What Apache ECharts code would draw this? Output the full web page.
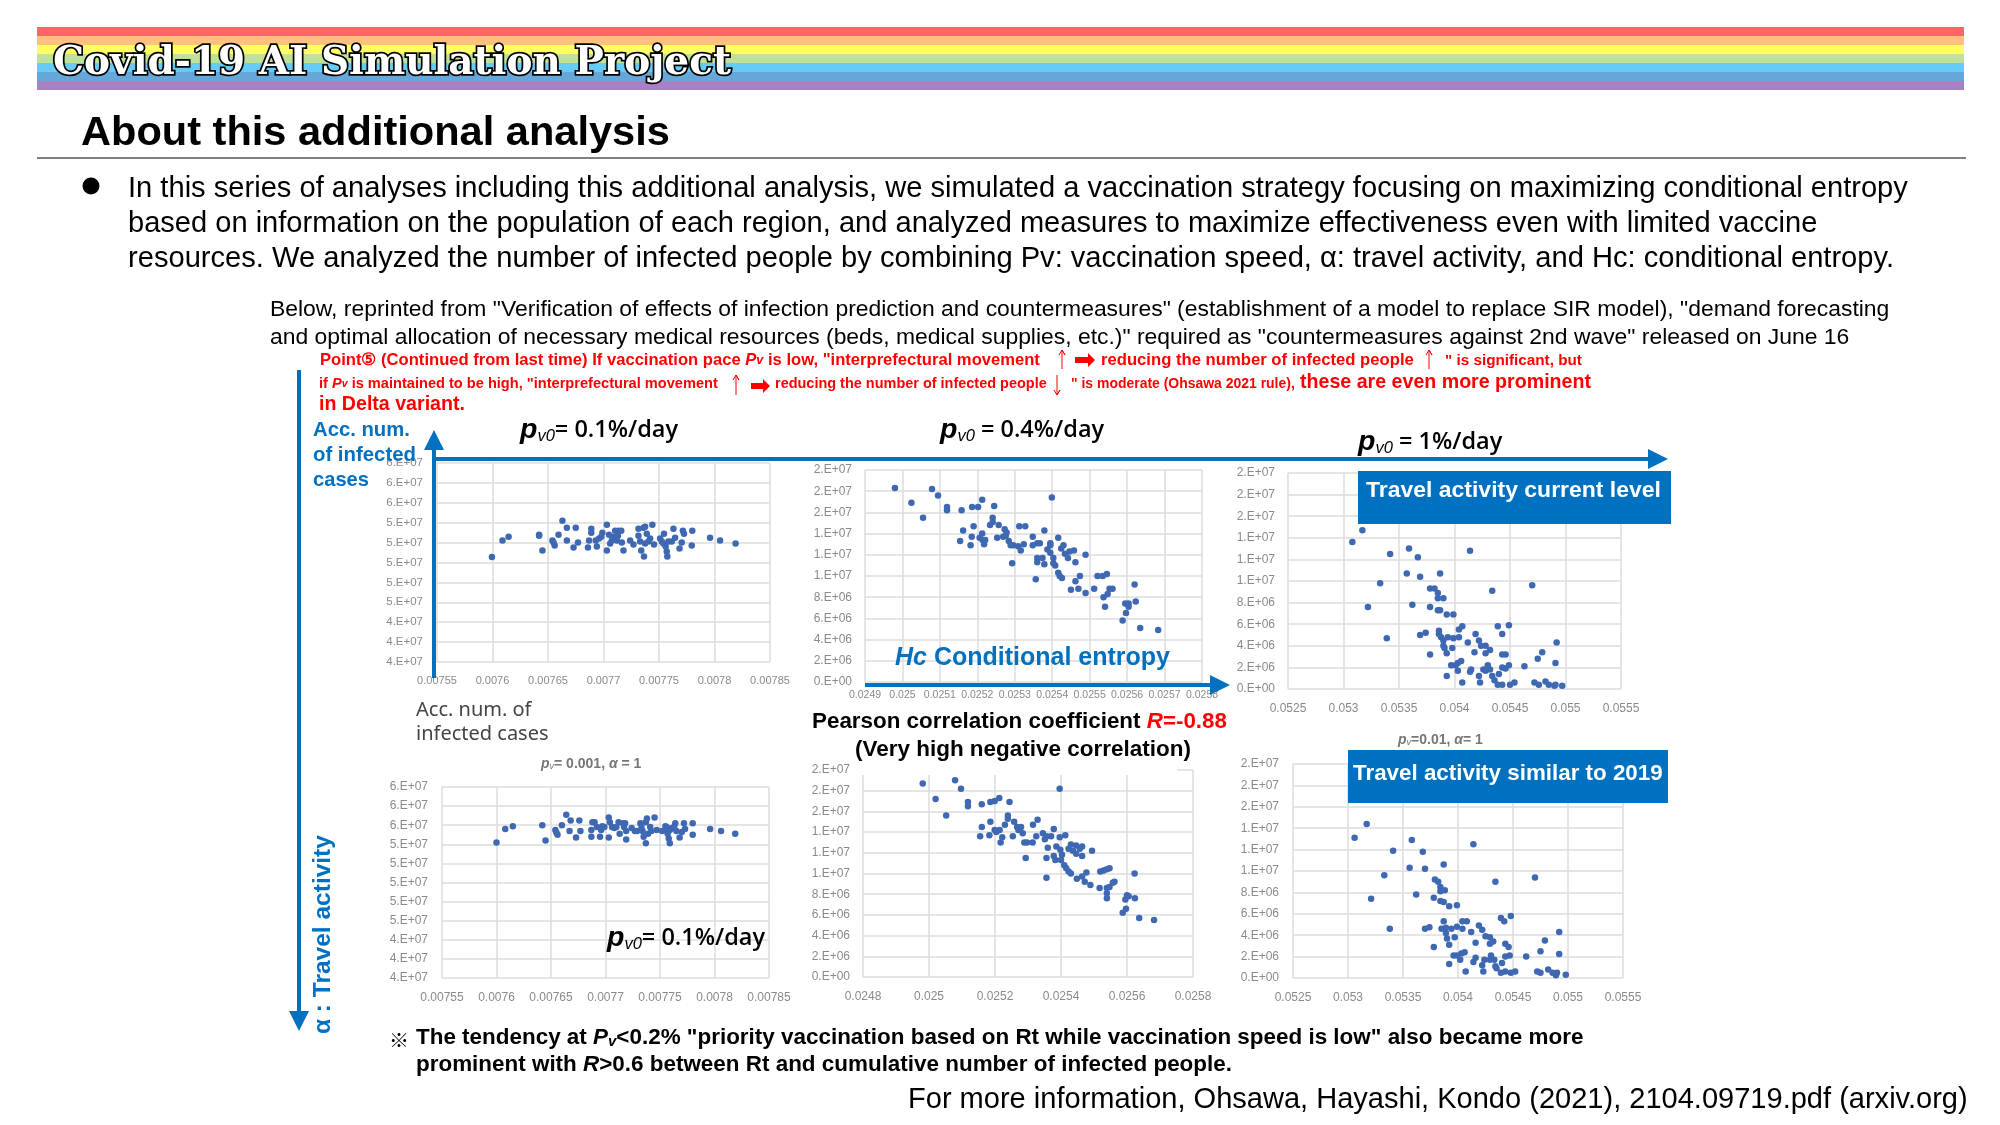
<!DOCTYPE html>
<html><head><meta charset="utf-8">
<style>html,body{margin:0;padding:0;background:#fff}#c{width:2000px;height:1125px}</style>
<script src="https://cdn.jsdelivr.net/npm/echarts@6/dist/echarts.min.js"></script></head>
<body><div id="c"></div>
<script>
// x unit: 1e-5 (pv 0.1%, 0.4%) or 1e-4 (pv 1%); y unit: 1e6 cases.
const currentPv01 = [[759.95,50.55],[760.9,52.2],[761.45,52.6],[764.2,52.8],[764.2,52.7],[764.5,51.2],[765.4,52.2],[765.5,52],[765.6,51.7],[765.95,52.8],[766.3,54.2],[766.7,53.5],[766.7,52.2],[767.3,51.5],[767.5,53.5],[767.7,52],[768.6,51.5],[768.7,52.2],[768.9,53.4],[768.9,53],[769.3,52.2],[769.4,51.6],[769.6,52.4],[769.8,52.6],[769.9,53],[770.3,53.8],[770.3,51.2],[770.5,52.8],[770.6,51.9],[770.75,52.2],[770.9,52.6],[771.05,53.2],[771.35,53.2],[771.6,53.2],[771.3,52.7],[771.2,52.2],[771.65,52],[771.8,51.2],[772.4,52.2],[772.7,51.8],[773.15,53.4],[773.6,53.5],[773.75,53.6],[773.15,52.7],[773.3,52.1],[773.75,51.9],[773.4,51.2],[773.65,50.6],[773.9,52.9],[774.05,52.1],[774.2,52.4],[774.4,53.8],[774.55,51.8],[775.1,52.4],[775.25,52.1],[775.45,52.9],[775.4,51.9],[775.6,51.6],[775.7,51.1],[775.75,50.6],[775.85,52.1],[776.15,52.1],[776.3,53.4],[776.45,52.5],[776.85,51.4],[777.05,52],[777.15,53.2],[777.25,52.9],[777.95,51.7],[778,53.2],[779.6,52.5],[780.5,52.2],[781.9,51.9]];
const currentPv04 = [[2498,18.3],[2502.4,16.9],[2507.9,18.2],[2509.5,17.6],[2505.5,15.5],[2511.9,16.5],[2511.9,16.2],[2515.8,16.2],[2518.6,16.5],[2520.2,16.5],[2521.3,17.2],[2524.5,16.6],[2516.2,14.3],[2515.4,13.3],[2519,14.7],[2518.5,13.7],[2518.2,12.9],[2520.6,13.6],[2521.3,14],[2521.4,13.4],[2522.1,13.4],[2521.8,13],[2523.4,14.8],[2524.1,15.5],[2524.1,15.1],[2525.3,13.6],[2525.7,14.8],[2526.9,13.7],[2527.3,14.4],[2527.8,14.1],[2527.6,13.8],[2528.4,13.3],[2528.9,12.9],[2529.6,12.9],[2529.3,11.2],[2530.9,12.8],[2531.6,12.4],[2531.2,14.7],[2532.8,14.7],[2532.4,13],[2534.8,13.7],[2534.8,12.9],[2536,13.1],[2536.7,13.1],[2537.9,14.3],[2539.5,13.1],[2539.5,12.9],[2538.7,12.5],[2539.5,12.2],[2539.9,17.4],[2535.6,9.7],[2536,11.7],[2536,11.3],[2537.4,11.7],[2537.9,11.1],[2540.3,11.7],[2540.3,11.2],[2540.8,11],[2541.6,13.6],[2542.4,12.6],[2543,12.9],[2543.4,12.1],[2544.2,11.7],[2544.6,12.3],[2545.8,12.4],[2546.2,11.3],[2548.9,12],[2541.6,10.3],[2542,10],[2542.6,9.8],[2545,8.7],[2546.2,9.5],[2547.4,10],[2547,8.8],[2548.9,8.4],[2551.2,8.8],[2552.1,10],[2553.5,10],[2554.6,10.2],[2553.7,8],[2554.8,8.3],[2554.1,7.1],[2555.3,8.8],[2556.1,8.8],[2562,9.2],[2559.5,7.4],[2560.4,7.4],[2560.4,7.1],[2562.3,7.6],[2559.7,6.5],[2558.8,5.8],[2563.5,5.1],[2568.3,4.9]];
const currentPv1 = [[530.8,13.6],[531.7,14.7],[534.2,12.5],[535.9,13],[536.7,12.2],[541.4,12.8],[535.7,10.7],[536.9,10.4],[538.7,10.7],[533.3,9.8],[547,9.6],[543.4,9.1],[537.8,9.3],[538.2,9.3],[538.5,8.9],[538.5,8.4],[539,8.4],[532.2,7.6],[536.2,7.8],[537.8,7.6],[538.5,7.3],[538.7,7.3],[539.3,6.9],[539.9,6.9],[533.9,4.7],[536.9,5],[537.4,5.2],[538.6,5.4],[538.6,5.1],[538.8,4.8],[539,4.5],[539.4,4.8],[539.9,4.7],[540.4,4.8],[540.4,5.5],[540.7,5.8],[539,4],[539.1,3.8],[539.8,3.8],[539.3,3.3],[537.8,3.2],[541.2,4.3],[541.8,3.4],[541.9,5.1],[542.2,4.5],[542.4,4],[542.8,4],[542.8,3.3],[543.2,3.6],[543.9,5.8],[544.3,5.1],[544.9,5.9],[544.3,3.2],[544.6,3.2],[539.7,2.2],[540.1,2.2],[540.3,2.4],[540.6,2.6],[540.3,1.7],[539.3,1.2],[540.7,0.6],[541.4,1.6],[541.5,1.8],[542.2,1.2],[542.3,0.6],[542.6,1.8],[543,2.2],[542.8,1.7],[543.2,1.8],[543.4,1.2],[543.6,0.8],[544,1.4],[543.9,0.4],[544.3,0.4],[544.3,2],[544.6,1.9],[544.9,2.2],[545,0.4],[545.4,0.6],[546.3,2.1],[547.2,0.6],[547.6,0.4],[547.5,2.8],[547.9,3.4],[548.2,0.7],[548.5,0.4],[549,0.3],[549.1,0.4],[549.1,2.4],[549.2,4.3],[549.7,0.3]];
const similar2019Pv01 = [[760,54.2],[760.8,55.6],[761.5,55.9],[764.2,56],[764.5,54.4],[765.4,55.5],[765.5,55.2],[765.6,55],[766,56],[766.4,57.1],[766.7,55.4],[766.8,56.5],[767.3,54.7],[767.6,56.5],[767.7,55.4],[768.7,55.5],[768.7,54.8],[768.8,56.3],[769,56.3],[769.2,55.8],[769.5,54.8],[769.6,55.5],[769.7,55.9],[769.9,55.8],[770.3,56.8],[770.3,54.7],[770.4,56.3],[770.6,55.8],[770.8,55.7],[771,55.8],[771.3,55.1],[771.2,56.3],[771.6,56.2],[771.8,56.2],[771.7,55.8],[771.9,54.5],[771.9,55.4],[772.4,55.7],[772.7,55.4],[772.9,55.4],[773.2,56.2],[773.3,55.8],[773.4,55.4],[773.5,54.8],[773.7,54.1],[773.7,56.3],[773.8,56.7],[773.9,55.1],[774.1,55.8],[774.2,55.4],[774.5,56.8],[774.7,55.5],[775.2,55.4],[775.5,55.9],[775.5,55.5],[775.6,55.8],[775.7,55.1],[775.8,54.6],[775.9,54.1],[775.9,55.5],[776.1,55.7],[776.3,55.8],[776.4,56.2],[776.5,55.4],[776.8,54.7],[777,55.3],[777.2,56.2],[777.3,55.6],[778,56.2],[778,55],[779.6,55.6],[780.6,55.4],[781.9,55.1]];
const similar2019Pv04 = [[2498.1,18.7],[2507.9,19],[2509.7,18.2],[2502,17.2],[2505.2,15.6],[2511.8,16.9],[2511.8,16.5],[2516,16.7],[2518.6,16.9],[2519.9,17],[2521.3,17.3],[2524.4,16.9],[2539.6,18.2],[2516,14.5],[2515.5,13.6],[2518.6,15],[2518.3,13.7],[2519.9,14.2],[2521.4,14.2],[2520.4,14],[2522.2,13.5],[2521.7,13],[2523,14.7],[2523.9,15.6],[2523.9,15.3],[2525.8,15],[2525.4,13.6],[2526.7,14.5],[2527.9,14.5],[2527.1,14.2],[2528.4,13.9],[2528.9,13],[2529.7,13],[2529.3,11.5],[2531.5,14.7],[2532.9,15.2],[2531.4,13],[2532.5,13.6],[2534.5,13.9],[2535.1,13.3],[2535.6,13.6],[2536,12.5],[2535.6,11.5],[2535.6,9.6],[2537,13.6],[2537.8,14.3],[2539.6,13.5],[2541.3,13.7],[2538.6,12.6],[2537.8,11.7],[2538.3,11.3],[2539.8,12.3],[2540.3,11.8],[2540,11.3],[2541,10.8],[2541.6,10.5],[2542.3,10.2],[2543,10],[2543,12.8],[2542.3,12.4],[2543.6,12.2],[2544.6,12.7],[2544.6,11.9],[2545.7,12.4],[2546.4,12.6],[2546.4,11.7],[2549.4,12.2],[2544.8,9.5],[2546.4,9.7],[2547.7,10.1],[2547.2,9.2],[2548.9,8.9],[2551.7,8.6],[2551.9,10.2],[2552.9,10.3],[2553.9,10.4],[2554.7,10.5],[2553.9,8.6],[2553.9,8.1],[2553.9,7.6],[2554.7,8.7],[2555.7,9.1],[2556.2,9.2],[2562.3,10],[2560,7.9],[2560.5,7.8],[2559.5,7.5],[2562.4,7.6],[2559.7,6.6],[2558.7,6.2],[2563.7,5.7],[2568.2,5.5]];
const similar2019Pv1 = [[530.6,13.1],[531.7,14.4],[534.1,11.9],[535.8,12.9],[536.8,11.8],[541.4,12.5],[535.6,10.3],[537,10.2],[538.7,10.6],[533.3,9.6],[547,9.4],[543.4,9],[537.9,9.2],[538.2,9],[538.4,8.5],[538.4,8.1],[538.8,8.2],[532.1,7.4],[536.2,7.8],[537.8,7.5],[538.4,7.2],[538.7,7.1],[539.2,6.7],[539.9,6.8],[533.8,4.6],[537,4.6],[537.4,4.75],[538.7,5.3],[538.5,4.6],[538.9,4.7],[539.4,4.6],[538.9,4.2],[539,3.7],[539.7,3.8],[539.9,4.8],[540.4,4.6],[540.4,5.3],[540.8,5.3],[541.2,4.3],[541.6,3.3],[539.2,3.1],[537.8,2.9],[541.9,4.9],[542.2,4.5],[542.5,3.9],[542.9,3.8],[542.9,3.2],[543.2,3.4],[543.9,5.6],[544.2,5.3],[544.8,5.8],[544.3,3.2],[544.6,2.9],[539.6,2.1],[539.9,2.1],[540.3,2.3],[540.6,2.4],[540.2,1.7],[539.2,1.3],[540.7,0.6],[541.4,1.5],[541.6,1.9],[542.2,1.2],[542.3,0.6],[542.4,1.7],[543,2.1],[542.9,1.7],[543.3,1.7],[543.4,1.1],[543.5,0.9],[544,1.4],[543.9,0.5],[544.3,0.6],[544.3,2],[544.7,2.1],[544.8,0.5],[545.2,0.6],[546.2,2],[547.2,0.6],[547.5,0.5],[547.5,2.5],[547.9,3.5],[548.2,0.8],[548.6,0.5],[549,0.5],[548.9,0.25],[549.2,2.25],[549.2,4.3],[549.8,0.3]];

const bandColors = ['#ff6666','#ffc080','#ffff66','#c0e298','#66ccf5','#66a6d8','#a880c4'];
const SANS = '"Liberation Sans",Arial,sans-serif';
const BLUE = '#0070c0', RED = '#ff0000';

const panels = [
 {data:currentPv01, xu:1e-5, xr:[0.00755,0.00785,0.00005], yr:[4e7,6e7,2e6], box:[437,463,333,199], lf:11, xm:13, ym:14},
 {data:currentPv04, xu:1e-5, xr:[0.0249,0.0258,0.0001], yr:[0,2e7,2e6], box:[865,470,337,212], lf:10.5, xm:8, ym:13, yf:12},
 {data:currentPv1, xu:1e-4, xr:[0.0525,0.0555,0.0005], yr:[0,2e7,2e6], box:[1288,473,333,216], lf:12, xm:14, ym:13},
 {data:similar2019Pv01, xu:1e-5, xr:[0.00755,0.00785,0.00005], yr:[4e7,6e7,2e6], box:[442,787,327,191], lf:12, xm:14, ym:14},
 {data:similar2019Pv04, xu:1e-5, xr:[0.0248,0.0258,0.0002], yr:[0,2e7,2e6], box:[863,770,330,207], lf:12, xm:14, ym:13},
 {data:similar2019Pv1, xu:1e-4, xr:[0.0525,0.0555,0.0005], yr:[0,2e7,2e6], box:[1293,764,330,214], lf:12, xm:14, ym:14},
];
const sci = v => { const [m,e] = v.toExponential(0).split('e'); const n = Math.abs(+e); return m + '.E' + (+e<0?'-':'+') + (n<10?'0':'') + n; };
const GRID = {lineStyle:{color:'#dcdcdc',width:1.5}};

const grid=[],xAxis=[],yAxis=[],series=[];
panels.forEach((p,i)=>{
  grid.push({left:p.box[0],top:p.box[1],width:p.box[2],height:p.box[3],containLabel:false});
  const lab = (fs,m,f)=>({color:'#8a8a8a',fontFamily:SANS,fontSize:fs,margin:m,formatter:f,hideOverlap:false,showMinLabel:true,showMaxLabel:true});
  xAxis.push({type:'value',gridIndex:i,min:p.xr[0],max:p.xr[1],interval:p.xr[2],axisLine:{show:false},axisTick:{show:false},splitLine:{show:true,...GRID},
    axisLabel:lab(p.lf,p.xm,v=>String(+v.toFixed(5)))});
  yAxis.push({type:'value',gridIndex:i,min:p.yr[0],max:p.yr[1],interval:p.yr[2],axisLine:{show:false},axisTick:{show:false},splitLine:{show:true,...GRID},
    axisLabel:{...lab(p.yf||(i===0?11.5:12),p.ym,sci),padding:[2,0,0,0]}});
  series.push({type:'scatter',xAxisIndex:i,yAxisIndex:i,symbolSize:6.5,silent:true,animation:false,
    itemStyle:{color:'#3f68b3',opacity:1},data:p.data.map(d=>[d[0]*p.xu,d[1]*1e6])});
});

// ---- helpers for slide furniture ----
const cv=document.createElement('canvas').getContext('2d');
const fit=(s,w,weight,style,fam)=>{cv.font=`${style||'normal'} ${weight||'normal'} 100px ${fam||SANS}`;return 100*w/cv.measureText(s).width;};
const Z=50, DY=1;
const g=[];
const rect=(x,y,w,h,fill,z)=>g.push({type:'rect',z:z||Z,silent:true,shape:{x,y,width:w,height:h},style:{fill}});
const T=(s,x,y,o={})=>{
  const fs=o.size||fit(s,o.w,o.bold?'bold':'normal',o.italic?'italic':'normal',o.fam);
  g.push({type:'text',z:o.z||Z+5,silent:true,x,y:y+DY,rotation:o.rot||0,style:{text:s,fill:o.color||'#000',fontFamily:o.fam||SANS,
    fontSize:fs,fontWeight:o.bold?'bold':'normal',fontStyle:o.italic?'italic':'normal',align:o.align||'left',verticalAlign:'middle',
    stroke:o.stroke,lineWidth:o.lw,shadowColor:o.sc,shadowBlur:o.sb,shadowOffsetX:o.sx,shadowOffsetY:o.sy}});
};
const R=(text,rich,x,y,o={})=>g.push({type:'text',z:Z+5,silent:true,x,y:y+DY,rotation:o.rot||0,style:{text,rich,fill:o.color||'#000',fontFamily:SANS,fontSize:o.size||14,align:'left',verticalAlign:'middle'}});
const harrow=(x1,x2,base,y,hh,lw)=>g.push({type:'polygon',z:Z+2,silent:true,shape:{points:[[x1,y-lw/2],[base,y-lw/2],[base,y-hh],[x2,y],[base,y+hh],[base,y+lw/2],[x1,y+lw/2]]},style:{fill:BLUE}});
const varrow=(x,y1,y2,base,hw,lw)=>g.push({type:'polygon',z:Z+2,silent:true,shape:{points:[[x-lw/2,y1],[x-lw/2,base],[x-hw,base],[x,y2],[x+hw,base],[x+lw/2,base],[x+lw/2,y1]]},style:{fill:BLUE}});
const thin=(x,y1,y2,hw)=>g.push({type:'polyline',z:Z+2,silent:true,shape:{points:[[x-hw,y2+(y1>y2?5:-5)],[x,y2],[x+hw,y2+(y1>y2?5:-5)],[x,y2],[x,y1]]},style:{stroke:RED,lineWidth:1,fill:'none'}});
const block=(x1,x2,y)=>{const b=x2-7;g.push({type:'polygon',z:Z+2,silent:true,shape:{points:[[x1,y-3],[b,y-3],[b,y-7],[x2,y],[b,y+7],[b,y+3],[x1,y+3]]},style:{fill:RED}});};
const pv=(x,y,rest,size)=>R(`{p|p}{s|v0}{t|${rest}}`,{p:{fontFamily:SANS,fontStyle:'italic',fontWeight:'bold',fontSize:size+5,fill:'#000'},
   s:{fontFamily:SANS,fontStyle:'italic',fontSize:size-7,fill:'#000',verticalAlign:'bottom',padding:[10,0,0,0]},
   t:{fontFamily:'"Open Sans",sans-serif',fontWeight:600,fontSize:size,fill:'#000'}},x,y);

// banner
bandColors.forEach((c,i)=>rect(37,27+i*9,1927,i===6?9:9.2,c,10));
T('Covid-19 AI Simulation Project',53,63,{w:678,bold:true,fam:'"DejaVu Serif",serif',color:'#fff',stroke:'#000',lw:3.5,sc:'rgba(0,0,0,.8)',sb:3,sx:2,sy:3});
T('About this additional analysis',81,132.5,{w:589,bold:true});
rect(37,157,1929,2,'#808080');
g.push({type:'circle',z:Z,silent:true,shape:{cx:91,cy:186,r:8.5},style:{fill:'#000'}});
T('In this series of analyses including this additional analysis, we simulated a vaccination strategy focusing on maximizing conditional entropy',128,188,{w:1780});
T('based on information on the population of each region, and analyzed measures to maximize effectiveness even with limited vaccine',128,223,{w:1690});
T('resources. We analyzed the number of infected people by combining Pv: vaccination speed, α: travel activity, and Hc: conditional entropy.',128,258,{w:1767});
T('Below, reprinted from "Verification of effects of infection prediction and countermeasures" (establishment of a model to replace SIR model), "demand forecasting',270,309,{w:1620});
T('and optimal allocation of necessary medical resources (beds, medical supplies, etc.)" required as "countermeasures against 2nd wave" released on June 16',270,337,{w:1580});

// red notes
const rs=(sz)=>({b:{fontWeight:'bold',fontSize:sz,fill:RED,fontFamily:SANS},i:{fontWeight:'bold',fontStyle:'italic',fontSize:sz,fill:RED,fontFamily:SANS},u:{fontWeight:'bold',fontStyle:'italic',fontSize:sz-4,fill:RED,fontFamily:SANS}});
R('{b|Point⑤ (Continued from last time) If vaccination pace }{i|P}{u|v}{b| is low, "interprefectural movement}',rs(16.6),320,359.5);
thin(1062,369,350,3); block(1075,1095,360);
T('reducing the number of infected people',1101,359.5,{w:313,bold:true,color:RED}); thin(1429,369,350,3);
T('" is significant, but',1445,359.5,{w:137,bold:true,color:RED});
R('{b|if }{i|P}{u|v}{b| is maintained to be high, "interprefectural movement}',rs(14.6),319,383);
thin(736,395,375,3); block(751,770,386);
T('reducing the number of infected people',775,383,{w:272,bold:true,color:RED}); thin(1057,375,395,3);
T('" is moderate (Ohsawa 2021 rule),',1071,383,{w:224,bold:true,color:RED});
T('these are even more prominent',1300,382,{w:291,bold:true,color:RED});
T('in Delta variant.',319,404,{w:146,bold:true,color:RED});

// axes furniture
varrow(299,370,1031,1011,10,4);
varrow(434,678,430,450,10,4);
harrow(434,1668,1648,459,10,4);
harrow(865,1230,1210,685,10,4);
T('Acc. num.',313,429,{w:97,bold:true,color:BLUE});
T('of infected',313,454,{w:103,bold:true,color:BLUE});
T('cases',313,479,{w:56,bold:true,color:BLUE});
R('{a|α : Travel activity}',{a:{fontWeight:'bold',fontSize:24.5,fill:BLUE,fontFamily:SANS}},323,1033,{rot:Math.PI/2});

pv(520,429.5,'= 0.1%/day',23.5);
pv(940,429,' = 0.4%/day',23.5);
pv(1358,441,' = 1%/day',23.5);
pv(607,937,'= 0.1%/day',23.5);

R('{h|Hc}{c| Conditional entropy}',{h:{fontWeight:'bold',fontStyle:'italic',fontSize:25,fill:BLUE,fontFamily:SANS},c:{fontWeight:'bold',fontSize:25,fill:BLUE,fontFamily:SANS}},895,657);

T('Acc. num. of',416,709,{size:20,fam:'"Noto Sans",sans-serif',color:'#444'});
T('infected cases',416,733,{size:20,fam:'"Noto Sans",sans-serif',color:'#444'});

R('{a|Pearson correlation coefficient }{r|R}{q|=-0.88}',{a:{fontWeight:'bold',fontSize:22.4,fill:'#000',fontFamily:SANS},r:{fontWeight:'bold',fontStyle:'italic',fontSize:22.4,fill:RED,fontFamily:SANS},q:{fontWeight:'bold',fontSize:22.4,fill:RED,fontFamily:SANS}},812,721);
T('(Very high negative correlation)',855,749,{w:336,bold:true});

// small chart captions
const cap={a:{fontStyle:'italic',fontWeight:'bold',fontSize:14,fill:'#777',fontFamily:SANS},s:{fontStyle:'italic',fontSize:9,fill:'#777',fontFamily:SANS,verticalAlign:'bottom'},b:{fontWeight:'bold',fontSize:14,fill:'#777',fontFamily:SANS}};
R('{a|p}{s|v}{b|= 0.001, }{a|α}{b| = 1}',cap,541,763);
R('{a|p}{s|v}{b|=0.01, }{a|α}{b|= 1}',cap,1398,739);

// mask where the slide's caption covers the chart top
rect(855,760,322,15,'#fff',Z-1);

// blue boxes
rect(1358,471,313,53,BLUE);
T('Travel activity current level',1366,490,{w:295,bold:true,color:'#fff'});
rect(1348,750,320,53,BLUE);
T('Travel activity similar to 2019',1353,773,{w:310,bold:true,color:'#fff'});

// footnote
T('※',389,1039,{size:20,fam:'"Noto Sans CJK JP",sans-serif'});
const fn={b:{fontWeight:'bold',fontSize:22.45,fill:'#000',fontFamily:SANS},i:{fontWeight:'bold',fontStyle:'italic',fontSize:22.45,fill:'#000',fontFamily:SANS},u:{fontWeight:'bold',fontStyle:'italic',fontSize:15,fill:'#000',fontFamily:SANS,verticalAlign:'bottom',padding:[8,0,0,0]}};
R('{b|The tendency at }{i|P}{u|v}{b|<0.2% "priority vaccination based on Rt while vaccination speed is low" also became more}',fn,416,1037);
R('{b|prominent with }{i|R}{b|>0.6 between Rt and cumulative number of infected people.}',fn,416,1064);
T('For more information, Ohsawa, Hayashi, Kondo (2021), 2104.09719.pdf (arxiv.org)',908,1098.5,{w:1060});

const chart=echarts.init(document.getElementById('c'),null,{renderer:'canvas',width:2000,height:1125});
chart.setOption({animation:false,backgroundColor:'#fff',grid,xAxis,yAxis,series,graphic:{elements:g}});
</script></body></html>
